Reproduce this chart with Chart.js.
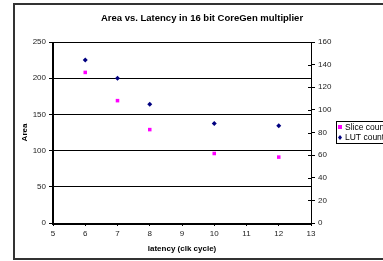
<!DOCTYPE html>
<html>
<head>
<meta charset="utf-8">
<script src="https://cdn.jsdelivr.net/npm/chart.js@4"></script>
<style>
  html, body { margin: 0; padding: 0; background: #fff; overflow: hidden; }
  #wrap { position: relative; width: 383px; height: 261px; }
</style>
</head>
<body>
<div id="wrap"><canvas id="chart" width="383" height="261"></canvas></div>
<script>
// values
const latency = [6, 7, 8, 10, 12];
const sliceCount = [208, 169, 129, 96, 91];
const lutCount = [144, 128, 105, 88, 86];
const xTicks = [5, 6, 7, 8, 9, 10, 11, 12, 13];
const areaTicks = [0, 50, 100, 150, 200, 250];
const lutTicks = [0, 20, 40, 60, 80, 100, 120, 140, 160];

const font = "'Liberation Sans', Arial, sans-serif";

// frame, title, legend and the crossing ticks on the right axis
const extras = {
  id: 'extras',
  afterDraw(chart) {
    const ctx = chart.ctx;
    const a = chart.chartArea;
    ctx.save();

    // outer border
    ctx.strokeStyle = '#333';
    ctx.lineWidth = 2;
    ctx.strokeRect(14, 4, 400, 255);

    // plot frame
    ctx.strokeStyle = '#000';
    ctx.lineWidth = 1;
    ctx.strokeRect(a.left + 0.5, a.top + 0.5, a.right - a.left, a.bottom - a.top);
    ctx.lineWidth = 2;
    ctx.beginPath();
    ctx.moveTo(a.left, a.top); ctx.lineTo(a.left, a.bottom + 1); ctx.lineTo(a.right, a.bottom + 1);
    ctx.stroke();

    // inner halves of the right axis ticks
    const y2 = chart.scales.y2;
    ctx.lineWidth = 1;
    ctx.beginPath();
    lutTicks.forEach(v => {
      const py = Math.round(y2.getPixelForValue(v)) + 0.5;
      ctx.moveTo(a.right - 3, py); ctx.lineTo(a.right, py);
    });
    ctx.stroke();

    // title
    ctx.fillStyle = '#000';
    ctx.font = 'bold 9.5px ' + font;
    ctx.textAlign = 'center';
    ctx.textBaseline = 'middle';
    ctx.fillText('Area vs. Latency in 16 bit CoreGen multiplier', 202, 18);

    // legend
    ctx.lineWidth = 1;
    ctx.strokeRect(336.5, 121.5, 60, 22);
    ctx.fillStyle = '#ff00ff';
    ctx.fillRect(338, 125, 4, 4);
    ctx.fillStyle = '#000080';
    ctx.beginPath();
    ctx.moveTo(340, 135); ctx.lineTo(342, 137.5); ctx.lineTo(340, 140); ctx.lineTo(338, 137.5);
    ctx.closePath(); ctx.fill();
    ctx.fillStyle = '#000';
    ctx.font = '8.5px ' + font;
    ctx.textAlign = 'left';
    ctx.fillText('Slice count', 345, 127.5);
    ctx.fillText('LUT count', 345, 138);

    ctx.restore();
  }
};

new Chart(document.getElementById('chart'), {
  type: 'scatter',
  data: {
    datasets: [
      {
        label: 'Slice count',
        data: latency.map((x, i) => ({ x: x, y: sliceCount[i] })),
        yAxisID: 'y',
        pointStyle: 'rect',
        pointRadius: 2.5,
        backgroundColor: '#ff00ff',
        borderColor: '#ff00ff',
        borderWidth: 0
      },
      {
        label: 'LUT count',
        data: latency.map((x, i) => ({ x: x, y: lutCount[i] })),
        yAxisID: 'y2',
        pointStyle: 'rectRot',
        pointRadius: 2.5,
        backgroundColor: '#000080',
        borderColor: '#000080',
        borderWidth: 0
      }
    ]
  },
  options: {
    responsive: false,
    animation: false,
    layout: { padding: { top: 42, left: 0, right: 0, bottom: 7 } },
    plugins: {
      legend: { display: false },
      title: { display: false },
      tooltip: { enabled: false }
    },
    scales: {
      x: {
        type: 'linear',
        min: 5, max: 13,
        afterBuildTicks: s => { s.ticks = xTicks.map(v => ({ value: v })); },
        afterFit: s => { s.height = 31; },
        grid: { display: true, drawOnChartArea: false, color: '#000', tickLength: 3 },
        border: { display: false },
        ticks: { color: '#222', font: { family: font, size: 8 }, padding: 3 },
        title: { display: true, text: 'latency (clk cycle)', color: '#000', font: { family: font, size: 8, weight: 'bold' }, padding: { top: 2, bottom: 0 } }
      },
      y: {
        position: 'left',
        min: 0, max: 250,
        afterBuildTicks: s => { s.ticks = areaTicks.map(v => ({ value: v })); },
        afterFit: s => { s.width = 53; },
        grid: { color: '#000', lineWidth: 1, tickLength: 4 },
        border: { display: false },
        ticks: { color: '#222', font: { family: font, size: 8 }, padding: 3 },
        title: { display: true, text: 'Area', color: '#000', font: { family: font, size: 8, weight: 'bold' }, padding: { top: 20, bottom: 0 } }
      },
      y2: {
        position: 'right',
        min: 0, max: 160,
        afterBuildTicks: s => { s.ticks = lutTicks.map(v => ({ value: v })); },
        afterFit: s => { s.width = 72; },
        grid: { drawOnChartArea: false, color: '#000', tickLength: 4 },
        border: { display: false },
        ticks: { color: '#222', font: { family: font, size: 8 }, padding: 3 }
      }
    }
  },
  plugins: [extras]
});
</script>
</body>
</html>
